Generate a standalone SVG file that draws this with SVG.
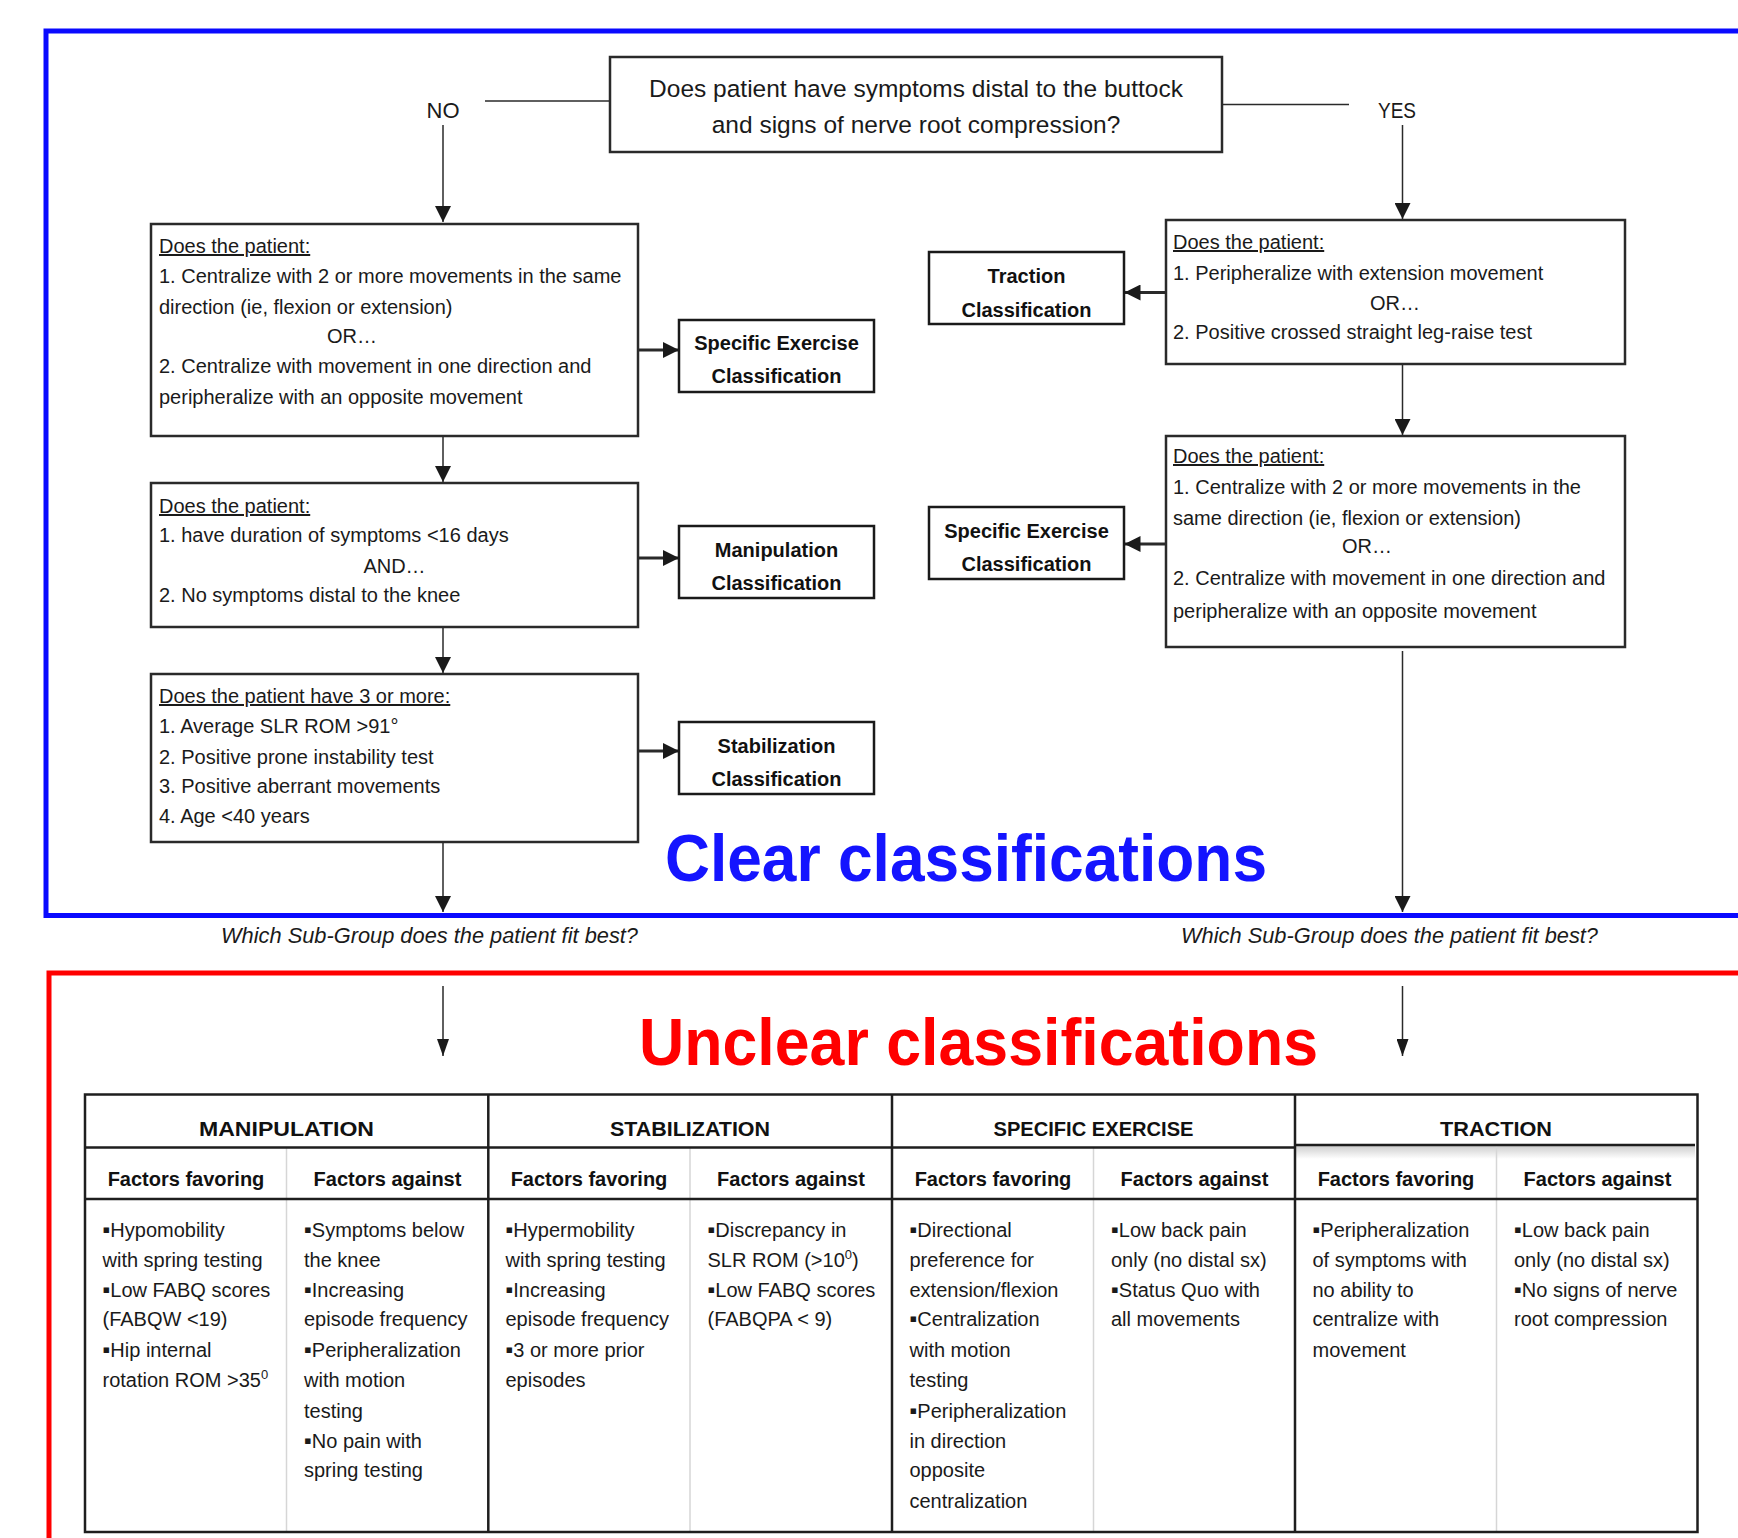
<svg xmlns="http://www.w3.org/2000/svg" width="1738" height="1538" viewBox="0 0 1738 1538">
<defs>
<style>
.t{font-family:"Liberation Sans",Arial,"DejaVu Sans",sans-serif;font-size:20px;fill:#1a1a1a}
.b{font-weight:bold;fill:#111}
.c{text-anchor:middle}
.u{text-decoration:underline}
.i{font-style:italic;font-size:21.8px}
.box{fill:#fff;stroke:#2a2a2a;stroke-width:2.5}
.cls{fill:#fff;stroke:#1a1a1a;stroke-width:2.5}
.conn{fill:none;stroke:#2a2a2a;stroke-width:1.5}
.thick{stroke-width:3}
.tline{fill:none;stroke:#1e1e1e;stroke-width:2.5}
.gline{fill:none;stroke:#d6d6d6;stroke-width:1.5}
.hd{font-size:21px}
.bl{font-size:22px}
</style>
<marker id="ah" markerUnits="userSpaceOnUse" markerWidth="16" markerHeight="16" refX="16" refY="8" orient="auto"><path d="M0,0 L16,8 L0,16 z" fill="#1a1a1a"/></marker>
<marker id="ahs" markerUnits="userSpaceOnUse" markerWidth="17" markerHeight="12" refX="17" refY="6" orient="auto"><path d="M0,0 L17,6 L0,12 z" fill="#1a1a1a"/></marker>
<linearGradient id="shade" x1="0" y1="0" x2="0" y2="1"><stop offset="0" stop-color="#cfcfcf"/><stop offset="1" stop-color="#ffffff"/></linearGradient>
</defs>
<rect width="1738" height="1538" fill="#fff"/>

<g id="clear-frame">
<rect x="46" y="31" width="1800" height="884.5" fill="none" stroke="#0a0aff" stroke-width="5"/>
<text class="t b" x="665" y="881" style="fill:#1414ff;font-size:66px" textLength="602" lengthAdjust="spacingAndGlyphs">Clear classifications</text>
</g>

<g id="unclear-frame">
<rect x="49" y="973" width="1800" height="700" fill="none" stroke="#ff0000" stroke-width="5"/>
<text class="t b" x="639" y="1065" style="fill:#ff0000;font-size:66px" textLength="679" lengthAdjust="spacingAndGlyphs">Unclear classifications</text>
</g>

<g id="connectors">
<path class="conn" d="M485,101 H610"/>
<path class="conn" d="M1222,104.5 H1349"/>
<path class="conn" d="M443,125 V222" marker-end="url(#ah)"/>
<path class="conn" d="M1402.5,125 V219" marker-end="url(#ah)"/>
<path class="conn" d="M443,436 V482" marker-end="url(#ah)"/>
<path class="conn" d="M443,627 V673" marker-end="url(#ah)"/>
<path class="conn" d="M443,842 V912" marker-end="url(#ah)"/>
<path class="conn" d="M1402.5,364 V435" marker-end="url(#ah)"/>
<path class="conn" d="M1402.5,651 V912" marker-end="url(#ah)"/>
<path class="conn thick" d="M638,350 H679" marker-end="url(#ah)"/>
<path class="conn thick" d="M638,558 H679" marker-end="url(#ah)"/>
<path class="conn thick" d="M638,751 H679" marker-end="url(#ah)"/>
<path class="conn thick" d="M1166,292.5 H1124.5" marker-end="url(#ah)"/>
<path class="conn thick" d="M1166,544 H1124.5" marker-end="url(#ah)"/>
<path class="conn" d="M443,986 V1056" marker-end="url(#ahs)"/>
<path class="conn" d="M1402.5,986 V1056" marker-end="url(#ahs)"/>
</g>

<g id="question">
<rect class="box" x="610" y="57" width="612" height="95"/>
<text class="t c" x="916" y="97" style="font-size:24.5px">Does patient have symptoms distal to the buttock</text>
<text class="t c" x="916" y="133" style="font-size:24.5px">and signs of nerve root compression?</text>
</g>

<g id="label-no"><text class="t c" x="443" y="118" style="font-size:22px">NO</text></g>
<g id="label-yes"><text class="t c" x="1397" y="118" style="font-size:22px" textLength="38" lengthAdjust="spacingAndGlyphs">YES</text></g>

<g id="no-q1">
<rect class="box" x="151" y="224" width="487" height="212"/>
<text class="t u" x="159" y="253">Does the patient:</text>
<text class="t" x="159" y="283">1. Centralize with 2 or more movements in the same</text>
<text class="t" x="159" y="314">direction (ie, flexion or extension)</text>
<text class="t c" x="352" y="343">OR…</text>
<text class="t" x="159" y="373">2. Centralize with movement in one direction and</text>
<text class="t" x="159" y="404">peripheralize with an opposite movement</text>
</g>

<g id="no-q2">
<rect class="box" x="151" y="483" width="487" height="144"/>
<text class="t u" x="159" y="513">Does the patient:</text>
<text class="t" x="159" y="542">1. have duration of symptoms &lt;16 days</text>
<text class="t c" x="394.5" y="573">AND…</text>
<text class="t" x="159" y="602">2. No symptoms distal to the knee</text>
</g>

<g id="no-q3">
<rect class="box" x="151" y="674" width="487" height="168"/>
<text class="t u" x="159" y="703">Does the patient have 3 or more:</text>
<text class="t" x="159" y="733">1. Average SLR ROM &gt;91°</text>
<text class="t" x="159" y="764">2. Positive prone instability test</text>
<text class="t" x="159" y="793">3. Positive aberrant movements</text>
<text class="t" x="159" y="823">4. Age &lt;40 years</text>
</g>

<g id="yes-q1">
<rect class="box" x="1166" y="220" width="459" height="144"/>
<text class="t u" x="1173" y="249">Does the patient:</text>
<text class="t" x="1173" y="280">1. Peripheralize with extension movement</text>
<text class="t c" x="1395" y="310">OR…</text>
<text class="t" x="1173" y="339">2. Positive crossed straight leg-raise test</text>
</g>

<g id="yes-q2">
<rect class="box" x="1166" y="436" width="459" height="211"/>
<text class="t u" x="1173" y="463">Does the patient:</text>
<text class="t" x="1173" y="494">1. Centralize with 2 or more movements in the</text>
<text class="t" x="1173" y="525">same direction (ie, flexion or extension)</text>
<text class="t c" x="1367" y="553">OR…</text>
<text class="t" x="1173" y="585">2. Centralize with movement in one direction and</text>
<text class="t" x="1173" y="618">peripheralize with an opposite movement</text>
</g>

<g id="cls-specific-left">
<rect class="cls" x="679" y="320" width="195" height="72"/>
<text class="t b c" x="776.5" y="350">Specific Exercise</text>
<text class="t b c" x="776.5" y="383">Classification</text>
</g>
<g id="cls-manipulation">
<rect class="cls" x="679" y="526" width="195" height="72"/>
<text class="t b c" x="776.5" y="557">Manipulation</text>
<text class="t b c" x="776.5" y="590">Classification</text>
</g>
<g id="cls-stabilization">
<rect class="cls" x="679" y="722" width="195" height="72"/>
<text class="t b c" x="776.5" y="753">Stabilization</text>
<text class="t b c" x="776.5" y="786">Classification</text>
</g>
<g id="cls-traction">
<rect class="cls" x="929" y="252" width="195" height="72"/>
<text class="t b c" x="1026.5" y="283">Traction</text>
<text class="t b c" x="1026.5" y="316.5">Classification</text>
</g>
<g id="cls-specific-right">
<rect class="cls" x="929" y="507" width="195" height="72"/>
<text class="t b c" x="1026.5" y="537.5">Specific Exercise</text>
<text class="t b c" x="1026.5" y="571">Classification</text>
</g>

<g id="subgroup-left"><text class="t i" x="221" y="943" textLength="417" lengthAdjust="spacingAndGlyphs">Which Sub-Group does the patient fit best?</text></g>
<g id="subgroup-right"><text class="t i" x="1181" y="943" textLength="417" lengthAdjust="spacingAndGlyphs">Which Sub-Group does the patient fit best?</text></g>

<g id="table">
<rect x="1296" y="1146" width="399" height="13" fill="url(#shade)"/>
<path class="gline" d="M286.5,1148 V1531 M690,1148 V1531 M1093.5,1148 V1531 M1496.5,1146 V1531"/>
<rect class="tline" x="85" y="1094.5" width="1612.5" height="437.5"/>
<path class="tline" d="M488.3,1094.5 V1532 M892,1094.5 V1532 M1295,1094.5 V1532"/>
<path class="tline" d="M85,1147.5 H1295 M1295,1145 H1695 M85,1199 H1697.5"/>

<text class="t b c hd" x="286.5" y="1135.5" textLength="175" lengthAdjust="spacingAndGlyphs">MANIPULATION</text>
<text class="t b c hd" x="690" y="1135.5" textLength="160" lengthAdjust="spacingAndGlyphs">STABILIZATION</text>
<text class="t b c hd" x="1093.5" y="1135.5" textLength="200" lengthAdjust="spacingAndGlyphs">SPECIFIC EXERCISE</text>
<text class="t b c hd" x="1496" y="1135.5" textLength="112" lengthAdjust="spacingAndGlyphs">TRACTION</text>

<text class="t b c" x="186" y="1186">Factors favoring</text>
<text class="t b c" x="387.5" y="1186">Factors against</text>
<text class="t b c" x="589" y="1186">Factors favoring</text>
<text class="t b c" x="791" y="1186">Factors against</text>
<text class="t b c" x="993" y="1186">Factors favoring</text>
<text class="t b c" x="1194.5" y="1186">Factors against</text>
<text class="t b c" x="1396" y="1186">Factors favoring</text>
<text class="t b c" x="1597.5" y="1186">Factors against</text>

<g id="manip-favoring">
<text class="t" x="102.5" y="1237"><tspan class="bl">▪</tspan>Hypomobility</text>
<text class="t" x="102.5" y="1267">with spring testing</text>
<text class="t" x="102.5" y="1297"><tspan class="bl">▪</tspan>Low FABQ scores</text>
<text class="t" x="102.5" y="1326">(FABQW &lt;19)</text>
<text class="t" x="102.5" y="1357"><tspan class="bl">▪</tspan>Hip internal</text>
<text class="t" x="102.5" y="1387">rotation ROM &gt;35<tspan dy="-8" style="font-size:13px">0</tspan></text>
</g>
<g id="manip-against">
<text class="t" x="304" y="1237"><tspan class="bl">▪</tspan>Symptoms below</text>
<text class="t" x="304" y="1267">the knee</text>
<text class="t" x="304" y="1297"><tspan class="bl">▪</tspan>Increasing</text>
<text class="t" x="304" y="1326">episode frequency</text>
<text class="t" x="304" y="1357"><tspan class="bl">▪</tspan>Peripheralization</text>
<text class="t" x="304" y="1387">with motion</text>
<text class="t" x="304" y="1418">testing</text>
<text class="t" x="304" y="1448"><tspan class="bl">▪</tspan>No pain with</text>
<text class="t" x="304" y="1477">spring testing</text>
</g>
<g id="stab-favoring">
<text class="t" x="505.5" y="1237"><tspan class="bl">▪</tspan>Hypermobility</text>
<text class="t" x="505.5" y="1267">with spring testing</text>
<text class="t" x="505.5" y="1297"><tspan class="bl">▪</tspan>Increasing</text>
<text class="t" x="505.5" y="1326">episode frequency</text>
<text class="t" x="505.5" y="1357"><tspan class="bl">▪</tspan>3 or more prior</text>
<text class="t" x="505.5" y="1387">episodes</text>
</g>
<g id="stab-against">
<text class="t" x="707.5" y="1237"><tspan class="bl">▪</tspan>Discrepancy in</text>
<text class="t" x="707.5" y="1267">SLR ROM (&gt;10<tspan dy="-8" style="font-size:13px">0</tspan><tspan dy="8">)</tspan></text>
<text class="t" x="707.5" y="1297"><tspan class="bl">▪</tspan>Low FABQ scores</text>
<text class="t" x="707.5" y="1326">(FABQPA &lt; 9)</text>
</g>
<g id="spec-favoring">
<text class="t" x="909.5" y="1237"><tspan class="bl">▪</tspan>Directional</text>
<text class="t" x="909.5" y="1267">preference for</text>
<text class="t" x="909.5" y="1297">extension/flexion</text>
<text class="t" x="909.5" y="1326"><tspan class="bl">▪</tspan>Centralization</text>
<text class="t" x="909.5" y="1357">with motion</text>
<text class="t" x="909.5" y="1387">testing</text>
<text class="t" x="909.5" y="1418"><tspan class="bl">▪</tspan>Peripheralization</text>
<text class="t" x="909.5" y="1448">in direction</text>
<text class="t" x="909.5" y="1477">opposite</text>
<text class="t" x="909.5" y="1508">centralization</text>
</g>
<g id="spec-against">
<text class="t" x="1111" y="1237"><tspan class="bl">▪</tspan>Low back pain</text>
<text class="t" x="1111" y="1267">only (no distal sx)</text>
<text class="t" x="1111" y="1297"><tspan class="bl">▪</tspan>Status Quo with</text>
<text class="t" x="1111" y="1326">all movements</text>
</g>
<g id="traction-favoring">
<text class="t" x="1312.5" y="1237"><tspan class="bl">▪</tspan>Peripheralization</text>
<text class="t" x="1312.5" y="1267">of symptoms with</text>
<text class="t" x="1312.5" y="1297">no ability to</text>
<text class="t" x="1312.5" y="1326">centralize with</text>
<text class="t" x="1312.5" y="1357">movement</text>
</g>
<g id="traction-against">
<text class="t" x="1514" y="1237"><tspan class="bl">▪</tspan>Low back pain</text>
<text class="t" x="1514" y="1267">only (no distal sx)</text>
<text class="t" x="1514" y="1297"><tspan class="bl">▪</tspan>No signs of nerve</text>
<text class="t" x="1514" y="1326">root compression</text>
</g>
</g>
</svg>
